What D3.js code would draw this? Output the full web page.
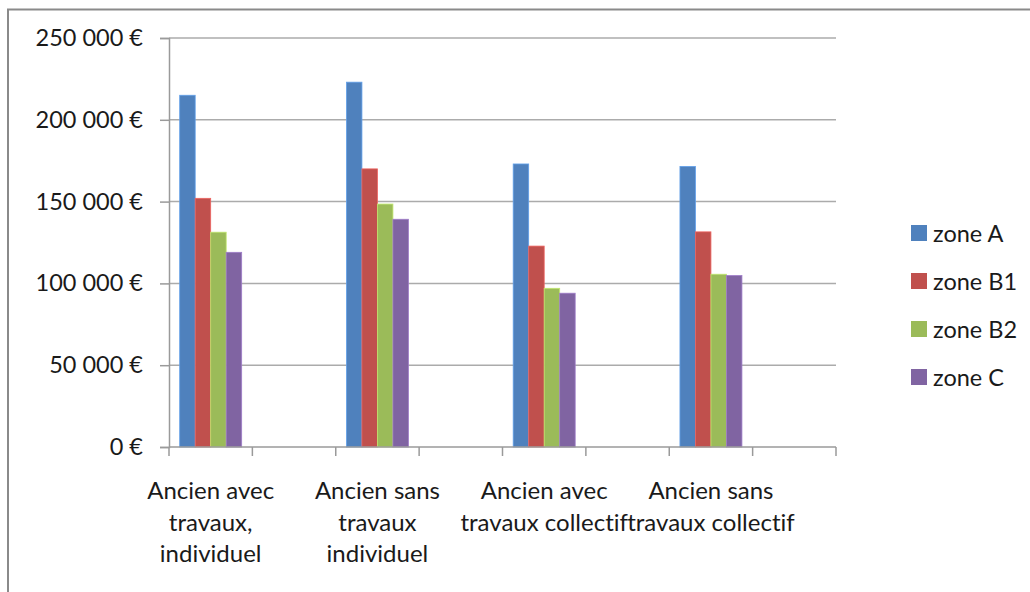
<!DOCTYPE html>
<html>
<head>
<meta charset="utf-8">
<script src="https://cdn.jsdelivr.net/npm/d3@7"></script>
<style>
  body { margin: 0; background: #fff; }
  svg text { font-family: Lato, "Open Sans", sans-serif; fill: #1a1a1a; font-variant-ligatures: none; }
</style>
</head>
<body>
<div id="graph"></div>
<script>
(function(){
	"use strict";

	// categories (x axis) and how Excel wrapped their labels
	var categories = ["Ancien avec travaux, individuel", "Ancien sans travaux individuel",
	                  "Ancien avec travaux collectif", "Ancien sans travaux collectif"];
	var categoryLines = [["Ancien avec", "travaux,", "individuel"],
	                     ["Ancien sans", "travaux", "individuel"],
	                     ["Ancien avec", "travaux collectif"],
	                     ["Ancien sans", "travaux collectif"]];

	// series, one value per category (euros)
	var zones = ["zone A", "zone B1", "zone B2", "zone C"];
	var zoneA  = [215000, 223000, 173000, 171500];
	var zoneB1 = [152000, 170000, 122800, 131500];
	var zoneB2 = [131300, 148500,  97000, 105600];
	var zoneC  = [119000, 139200,  94000, 104800];
	var yTicks = [0, 50000, 100000, 150000, 200000, 250000];

	var colors = ["#4F81BD", "#C0504D", "#9BBB59", "#8064A2"];
	var seriesValues = [zoneA, zoneB1, zoneB2, zoneC];

	var width = 1030, height = 592;
	var left = 169, right = 836, top = 38, bottom = 447;

	var svg = d3.select("#graph").append("svg")
		.attr("width", width)
		.attr("height", height);

	// chart frame (runs off the right and bottom of the picture)
	svg.append("path")
		.attr("d", "M8," + height + "V9.5H" + width)
		.attr("fill", "none")
		.attr("stroke", "#8a8a8a")
		.attr("stroke-width", 2);

	var x = d3.scaleBand().domain(categories).range([left, right]);
	// bars sit in the left half of each category slot
	var x1 = d3.scaleBand().domain(zones).range([0, x.bandwidth() / 2]).paddingOuter(0.69);
	var y = d3.scaleLinear().domain([0, 250000]).range([bottom, top]);

	var fmt = function(v){
		return v === 0 ? "0 €" : d3.format(",")(v).replace(/,/g, " ") + " €";
	};

	// gridlines
	svg.append("g").selectAll("line")
		.data(yTicks.filter(function(d){ return d > 0; }))
		.enter().append("line")
		.attr("x1", left).attr("x2", right)
		.attr("y1", function(d){ return y(d); })
		.attr("y2", function(d){ return y(d); })
		.attr("stroke", "#ababab")
		.attr("stroke-width", 1.5);

	// y axis
	var yAxis = svg.append("g")
		.attr("transform", "translate(" + left + ",0)")
		.call(d3.axisLeft(y).tickValues(yTicks).tickSize(9).tickPadding(17).tickFormat(fmt));
	yAxis.select(".domain").attr("stroke", "#9a9a9a").attr("stroke-width", 1.5);
	yAxis.selectAll(".tick line").attr("stroke", "#9a9a9a").attr("stroke-width", 1.5);
	yAxis.selectAll(".tick text")
		.attr("font-size", "23.5px")
		.style("font-family", "Lato, sans-serif")
		.attr("fill", "#1a1a1a");

	// bars
	var groups = svg.append("g").selectAll("g")
		.data(categories)
		.enter().append("g")
		.attr("transform", function(d){ return "translate(" + x(d) + ",0)"; });

	groups.selectAll("rect")
		.data(function(d, i){
			return zones.map(function(z, j){ return { zone: z, value: seriesValues[j][i], c: colors[j] }; });
		})
		.enter().append("rect")
		.attr("x", function(d){ return x1(d.zone); })
		.attr("width", x1.bandwidth())
		.attr("y", function(d){ return y(d.value); })
		.attr("height", function(d){ return bottom - y(d.value); })
		.attr("fill", function(d){ return d.c; })
		.attr("stroke", function(d){ return d3.color(d.c).brighter(0.6); })
		.attr("stroke-width", 0.8);

	// x axis: line plus a tick every half category
	var halfTicks = [];
	categories.forEach(function(c){
		halfTicks.push(x(c));
		halfTicks.push(x(c) + x.bandwidth() / 2);
	});
	halfTicks.push(right);

	svg.append("line")
		.attr("x1", left).attr("x2", right)
		.attr("y1", bottom).attr("y2", bottom)
		.attr("stroke", "#9a9a9a").attr("stroke-width", 1.5);
	svg.append("g").selectAll("line")
		.data(halfTicks)
		.enter().append("line")
		.attr("x1", function(d){ return d; }).attr("x2", function(d){ return d; })
		.attr("y1", bottom).attr("y2", bottom + 9)
		.attr("stroke", "#9a9a9a").attr("stroke-width", 1.5);

	// category labels
	var labels = svg.append("g").selectAll("text")
		.data(categories)
		.enter().append("text")
		.attr("text-anchor", "middle")
		.attr("font-size", "24px")
		.attr("x", function(d){ return x(d) + x.bandwidth() / 4; })
		.attr("y", 499);
	labels.selectAll("tspan")
		.data(function(d, i){ return categoryLines[i]; })
		.enter().append("tspan")
		.attr("x", function(){ var p = this.parentNode; return p.getAttribute("x"); })
		.attr("dy", function(d, i){ return i === 0 ? 0 : 31.5; })
		.text(function(d){ return d; });

	// legend
	var legend = svg.append("g").selectAll("g")
		.data(zones)
		.enter().append("g")
		.attr("transform", function(d, i){ return "translate(911," + (233 + i * 48) + ")"; });
	legend.append("rect")
		.attr("x", 0).attr("y", -8)
		.attr("width", 16).attr("height", 16)
		.attr("fill", function(d, i){ return colors[i]; });
	legend.append("text")
		.attr("x", 22).attr("y", 8.5)
		.attr("font-size", "23.5px")
		.text(function(d){ return d; });
})();
</script>
</body>
</html>
